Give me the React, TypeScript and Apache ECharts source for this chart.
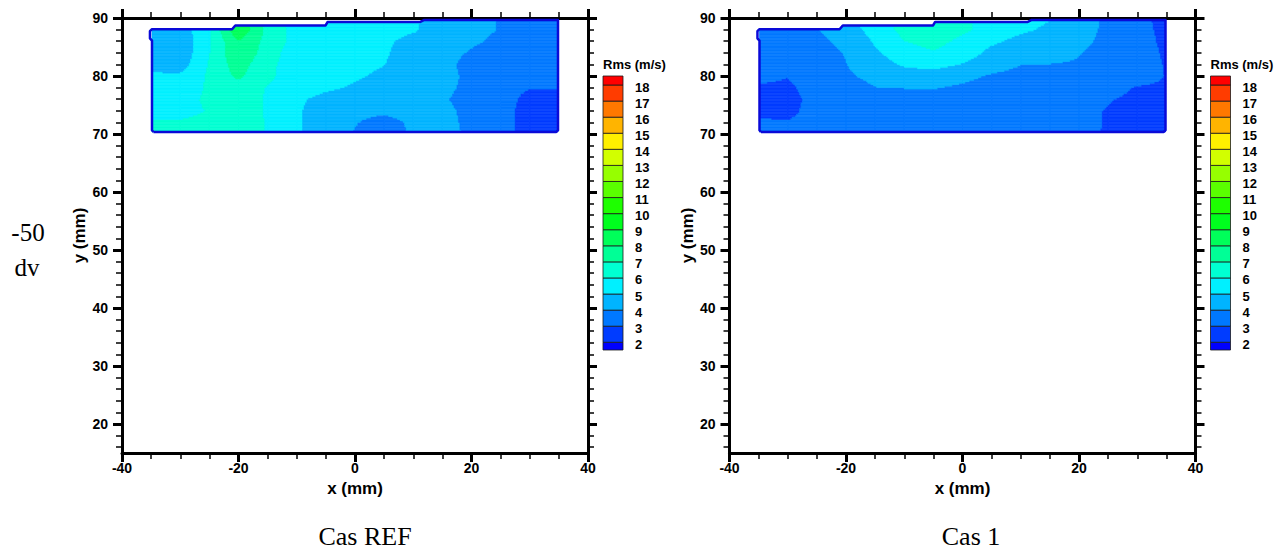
import { useEffect, useRef } from "react";
import * as echarts from "echarts";

// ---------- data ----------
const X_NODES = [-35, -30, -25, -20, -15, -10, -5, 0, 5, 10, 15, 20, 25, 30, 35];
const Y_NODES = [70, 72, 74, 76, 78, 80, 82, 84, 86, 88, 90];

// Rms (m/s), rows from y=70 (first) to y=90 (last), columns follow X_NODES
const REF_RMS = [
  [6.2, 6.2, 6.3, 6.5, 5.95, 5.1, 4.6, 3.95, 3.6, 4.1, 4.2, 3.9, 3.35, 2.6, 2.5],
  [6.1, 6.1, 6.3, 6.5, 5.95, 5.1, 4.6, 4.05, 3.7, 4.15, 4.2, 3.85, 3.4, 2.6, 2.5],
  [5.7, 5.7, 6.05, 6.5, 5.9, 5.1, 4.6, 4.2, 4.15, 4.3, 4.2, 3.8, 3.4, 2.6, 2.5],
  [5.6, 5.6, 6.2, 6.5, 5.9, 5.15, 4.75, 4.5, 4.4, 4.4, 4.1, 3.7, 3.45, 2.7, 2.6],
  [5.4, 5.4, 6.15, 6.6, 5.95, 5.4, 5.15, 4.9, 4.6, 4.45, 4.2, 3.8, 3.3, 3.05, 3.05],
  [5.2, 5.2, 6.15, 7.2, 6.2, 5.5, 5.3, 5.1, 4.85, 4.5, 4.3, 3.8, 3.3, 3.3, 3.2],
  [4.6, 4.5, 6.1, 7.5, 6.25, 5.5, 5.4, 5.2, 5.02, 4.6, 4.4, 3.6, 3.4, 3.3, 3.2],
  [4.4, 4.3, 5.95, 7.9, 6.5, 5.4, 5.5, 5.4, 5.1, 4.6, 4.4, 3.9, 3.6, 3.4, 3.3],
  [4.3, 4.2, 5.9, 7.95, 6.7, 5.6, 5.5, 5.4, 5.15, 4.75, 4.5, 4.15, 3.8, 3.5, 3.4],
  [4.3, 4.4, 5.9, 8.9, 6.7, 5.6, 5.5, 5.4, 5.3, 5.1, 4.6, 4.3, 3.95, 3.6, 3.5],
  [4.3, 4.4, 5.9, 9.0, 6.8, 5.6, 5.5, 5.4, 5.3, 5.1, 4.7, 4.35, 3.95, 3.6, 3.5],
];

const CAS1_RMS = [
  [3.3, 3.25, 3.35, 3.35, 3.4, 3.45, 3.45, 3.4, 3.4, 3.35, 3.3, 3.15, 2.95, 2.8, 2.75],
  [3.1, 3.05, 3.3, 3.35, 3.4, 3.45, 3.45, 3.4, 3.4, 3.35, 3.3, 3.2, 2.95, 2.8, 2.75],
  [2.85, 2.8, 3.3, 3.4, 3.5, 3.55, 3.55, 3.5, 3.45, 3.4, 3.35, 3.2, 2.95, 2.8, 2.75],
  [2.85, 2.75, 3.25, 3.45, 3.6, 3.7, 3.75, 3.6, 3.5, 3.45, 3.4, 3.35, 3.05, 2.85, 2.8],
  [2.9, 2.85, 3.35, 3.55, 3.98, 4.02, 4.05, 3.85, 3.6, 3.5, 3.5, 3.45, 3.25, 2.95, 2.9],
  [3.2, 3.03, 3.45, 3.85, 4.25, 4.55, 4.6, 4.25, 3.9, 3.7, 3.7, 3.65, 3.45, 3.3, 2.98],
  [3.35, 3.4, 3.55, 3.97, 4.6, 5.1, 5.3, 4.95, 4.4, 4.02, 3.98, 3.9, 3.55, 3.35, 2.95],
  [3.4, 3.45, 3.65, 4.05, 4.85, 5.5, 5.9, 5.5, 4.75, 4.6, 4.4, 4.05, 3.65, 3.35, 2.9],
  [3.45, 3.5, 3.8, 4.2, 5.1, 5.98, 6.35, 5.75, 5.15, 4.75, 4.55, 4.25, 3.75, 3.3, 2.85],
  [3.45, 3.55, 3.95, 4.55, 5.35, 6.3, 6.7, 6.2, 5.6, 5.15, 4.85, 4.4, 3.8, 3.2, 2.85],
  [3.5, 3.6, 4.0, 4.7, 5.6, 6.5, 6.8, 6.2, 5.7, 5.3, 5.05, 4.5, 3.8, 3.2, 2.8],
];

const LEVELS = [2, 3, 4, 5, 6, 7, 8, 9, 10, 11, 12, 13, 14, 15, 16, 17, 18];
const BAND_COLORS = [
  "#0000ff", "#003cff", "#0078ff", "#00b4ff", "#00f0ff", "#00ffd2",
  "#00ff96", "#00ff5a", "#00ff1e", "#1eff00", "#5aff00", "#96ff00",
  "#d2ff00", "#fff000", "#ffb400", "#ff7800", "#ff3c00", "#ff0000",
];

// measured domain boundary (mm)
const TOP_EDGE: [number, number][] = [
  [-35.3, 88.05], [-21.1, 88.05], [-20.55, 88.72], [-5.05, 88.72],
  [-4.7, 89.33], [11.2, 89.33], [11.8, 89.64], [35.0, 89.64],
];
const DOMAIN_OUTLINE: [number, number][] = [
  [-34.6, 70.35], [34.55, 70.35], [34.85, 70.65], [34.85, 89.64],
  [11.8, 89.64], [11.2, 89.33], [-4.7, 89.33], [-5.05, 88.72],
  [-20.55, 88.72], [-21.1, 88.05], [-34.9, 88.05], [-35.2, 87.75],
  [-35.2, 86.5], [-34.85, 86.1], [-34.85, 70.65], [-34.6, 70.35],
];
const FILL_X = [-34.85, 34.85];
const FILL_Y0 = 70.35;

const X_MIN = -40, X_MAX = 40, X_STEP = 20;
const Y_MIN = 15, Y_MAX = 90;
const Y_MAJOR = [20, 30, 40, 50, 60, 70, 80, 90];
const Y_MINOR = [16, 18, 22, 24, 26, 28, 32, 34, 36, 38, 42, 44, 46, 48, 52, 54, 56, 58, 62, 64, 66, 68, 72, 74, 76, 78, 82, 84, 86, 88];

const PANEL_TITLES = ["Cas REF", "Cas 1"];
const ROW_LABEL = ["-50", "dv"];
const LEGEND_TITLE = "Rms (m/s)";

// ---------- layout ----------
const FONT = "'Liberation Sans', Arial, Helvetica, sans-serif";
const SERIF = "'Liberation Serif', 'Times New Roman', serif";
const GRIDS = [
  { left: 122, top: 18, width: 466, height: 435 },
  { left: 729.5, top: 18, width: 466, height: 435 },
];
const LEG = { barW: 20, gap: 15, top: 76, bottom: 350, y18: 85, step: 16.08 };
const OUTLINE_COLOR = "#0a0ad8";

function bandColor(v: number) {
  let idx = 0;
  for (const l of LEVELS) if (v >= l) idx++;
  return BAND_COLORS[idx];
}

function topEdge(x: number) {
  if (x <= TOP_EDGE[0][0]) return TOP_EDGE[0][1];
  for (let i = 1; i < TOP_EDGE.length; i++) {
    const [xa, ya] = TOP_EDGE[i - 1];
    const [xb, yb] = TOP_EDGE[i];
    if (x <= xb) return ya + ((yb - ya) * (x - xa)) / (xb - xa);
  }
  return TOP_EDGE[TOP_EDGE.length - 1][1];
}

function cells(grid: number[][]) {
  const out: number[][] = [];
  for (let j = 0; j < Y_NODES.length - 1; j++) {
    for (let i = 0; i < X_NODES.length - 1; i++) {
      out.push([
        X_NODES[i], Y_NODES[j], X_NODES[i + 1], Y_NODES[j + 1],
        grid[j][i], grid[j][i + 1], grid[j + 1][i], grid[j + 1][i + 1],
      ]);
    }
  }
  return out;
}

function renderCell(_params: any, api: any) {
  const x0 = api.value(0), y0 = api.value(1), x1 = api.value(2), y1 = api.value(3);
  const v00 = api.value(4), v10 = api.value(5), v01 = api.value(6), v11 = api.value(7);
  const NX = 20, NY = 8;
  const children: any[] = [];
  const flush = (run: any) => {
    if (!run) return;
    const p0 = api.coord([run.xa, run.top]);
    const p1 = api.coord([run.xb, run.bot]);
    children.push({
      type: "rect",
      shape: { x: p0[0], y: p0[1], width: p1[0] - p0[0], height: p1[1] - p0[1] },
      style: { fill: run.color, stroke: run.color, lineWidth: 0.6 },
    });
  };
  for (let b = 0; b < NY; b++) {
    const ya = y0 + ((y1 - y0) * b) / NY;
    const yb = y0 + ((y1 - y0) * (b + 1)) / NY;
    const ty = (b + 0.5) / NY;
    let run: any = null;
    for (let a = 0; a < NX; a++) {
      let xa = x0 + ((x1 - x0) * a) / NX;
      let xb = x0 + ((x1 - x0) * (a + 1)) / NX;
      const tx = (a + 0.5) / NX;
      const xc = (xa + xb) / 2;
      xa = Math.max(xa, FILL_X[0]);
      xb = Math.min(xb, FILL_X[1]);
      const top = Math.min(yb, topEdge(xc));
      const bot = Math.max(ya, FILL_Y0);
      if (xb <= xa || top <= bot) {
        flush(run);
        run = null;
        continue;
      }
      const v = v00 * (1 - tx) * (1 - ty) + v10 * tx * (1 - ty) + v01 * (1 - tx) * ty + v11 * tx * ty;
      const color = bandColor(v);
      if (run && run.color === color && run.top === top && run.bot === bot && Math.abs(run.xb - xa) < 1e-9) {
        run.xb = xb;
      } else {
        flush(run);
        run = { xa, xb, top, bot, color };
      }
    }
    flush(run);
  }
  return { type: "group", children };
}

function axisLine() {
  return { show: true, onZero: false, lineStyle: { color: "#000", width: 3 } };
}

function buildAxes(g: number) {
  const majorTick = { show: true, inside: false, length: 9, lineStyle: { color: "#000", width: 3 } };
  const minorTickStyle = { color: "#000", width: 1.5 };
  const label = { color: "#000", fontFamily: FONT, fontWeight: "bold" as const, fontSize: 14 };
  const xAxes = [
    {
      gridIndex: g, type: "value", position: "bottom", min: X_MIN, max: X_MAX, interval: X_STEP,
      axisLine: axisLine(), axisTick: majorTick,
      minorTick: { show: true, splitNumber: 4, length: 6, lineStyle: minorTickStyle },
      splitLine: { show: false }, minorSplitLine: { show: false },
      axisLabel: { ...label, margin: 8 },
      name: "x (mm)", nameLocation: "middle", nameGap: 24,
      nameTextStyle: { color: "#000", fontFamily: FONT, fontWeight: "bold", fontSize: 17, verticalAlign: "top" },
    },
    {
      gridIndex: g, type: "value", position: "top", min: X_MIN, max: X_MAX, interval: X_STEP,
      axisLine: axisLine(), axisTick: majorTick,
      minorTick: { show: true, splitNumber: 4, length: 6, lineStyle: minorTickStyle },
      splitLine: { show: false }, axisLabel: { show: false },
    },
  ];
  const yBase = { gridIndex: g, type: "value", min: Y_MIN, max: Y_MAX, splitLine: { show: false } };
  const yAxes = [
    {
      ...yBase, position: "left", axisLine: axisLine(),
      axisTick: { ...majorTick, customValues: Y_MAJOR },
      axisLabel: { ...label, margin: 14, customValues: Y_MAJOR },
      name: "y (mm)", nameLocation: "middle", nameGap: 34,
      nameTextStyle: { color: "#000", fontFamily: FONT, fontWeight: "bold", fontSize: 17 },
    },
    {
      ...yBase, position: "left", axisLine: { show: false, onZero: false },
      axisTick: { show: true, length: 6, customValues: Y_MINOR, lineStyle: minorTickStyle },
      axisLabel: { show: false },
    },
    {
      ...yBase, position: "right", axisLine: axisLine(),
      axisTick: { ...majorTick, customValues: Y_MAJOR },
      axisLabel: { show: false },
    },
    {
      ...yBase, position: "right", axisLine: { show: false, onZero: false },
      axisTick: { show: true, length: 6, customValues: Y_MINOR, lineStyle: minorTickStyle },
      axisLabel: { show: false },
    },
  ];
  return { xAxes, yAxes };
}

function legendGraphics(g: number) {
  const barLeft = GRIDS[g].left + GRIDS[g].width + LEG.gap;
  const yOf = (L: number) => LEG.y18 + (18 - L) * LEG.step;
  const els: any[] = [];
  for (let k = 0; k < BAND_COLORS.length; k++) {
    let top: number, bottom: number;
    if (k === 0) { top = yOf(LEVELS[0]); bottom = LEG.bottom; }
    else if (k === BAND_COLORS.length - 1) { top = LEG.top; bottom = yOf(LEVELS[LEVELS.length - 1]); }
    else { top = yOf(LEVELS[k]); bottom = yOf(LEVELS[k - 1]); }
    els.push({
      type: "rect",
      shape: { x: barLeft, y: top, width: LEG.barW, height: bottom - top },
      style: { fill: BAND_COLORS[k], stroke: "#1a1a1a", lineWidth: 0.8 },
    });
  }
  for (const L of LEVELS) {
    els.push({
      type: "text", x: barLeft + 32, y: yOf(L) + 2,
      style: { text: String(L), fill: "#000", font: `bold 13px ${FONT}`, verticalAlign: "middle", align: "left" },
    });
  }
  els.push({
    type: "text", x: barLeft, y: 64,
    style: { text: LEGEND_TITLE, fill: "#000", font: `bold 13px ${FONT}`, verticalAlign: "middle", align: "left" },
  });
  return els;
}

export default function App() {
  const ref = useRef<HTMLDivElement>(null);
  useEffect(() => {
    if (!ref.current) return;
    const chart = echarts.init(ref.current, undefined, { renderer: "svg" });
    const a0 = buildAxes(0);
    const a1 = buildAxes(1);
    const grids = [REF_RMS, CAS1_RMS];
    const series: any[] = [];
    grids.forEach((grid, g) => {
      series.push({
        type: "custom", xAxisIndex: 2 * g, yAxisIndex: 4 * g,
        renderItem: renderCell, data: cells(grid), encode: { x: [0, 2], y: [1, 3] },
        silent: true, z: 2,
      });
      series.push({
        type: "line", xAxisIndex: 2 * g, yAxisIndex: 4 * g, data: DOMAIN_OUTLINE,
        symbol: "none", silent: true, z: 5,
        lineStyle: { color: OUTLINE_COLOR, width: 2.5, join: "round" },
      });
    });
    const graphic: any[] = [
      ...legendGraphics(0), ...legendGraphics(1),
      { type: "text", x: 28, y: 232, style: { text: ROW_LABEL[0], fill: "#000", font: `25px ${SERIF}`, align: "center", verticalAlign: "middle" } },
      { type: "text", x: 27, y: 267, style: { text: ROW_LABEL[1], fill: "#000", font: `25px ${SERIF}`, align: "center", verticalAlign: "middle" } },
      { type: "text", x: 365, y: 536, style: { text: PANEL_TITLES[0], fill: "#000", font: `26px ${SERIF}`, align: "center", verticalAlign: "middle" } },
      { type: "text", x: 971, y: 536, style: { text: PANEL_TITLES[1], fill: "#000", font: `26px ${SERIF}`, align: "center", verticalAlign: "middle" } },
    ];
    chart.setOption({
      animation: false,
      backgroundColor: "#fff",
      grid: GRIDS,
      xAxis: [...a0.xAxes, ...a1.xAxes],
      yAxis: [...a0.yAxes, ...a1.yAxes],
      series,
      graphic,
    });
    return () => chart.dispose();
  }, []);
  return (
    <div
      ref={ref}
      style={{ position: "absolute", left: 0, top: 0, width: 1283, height: 552, background: "#fff" }}
    />
  );
}
